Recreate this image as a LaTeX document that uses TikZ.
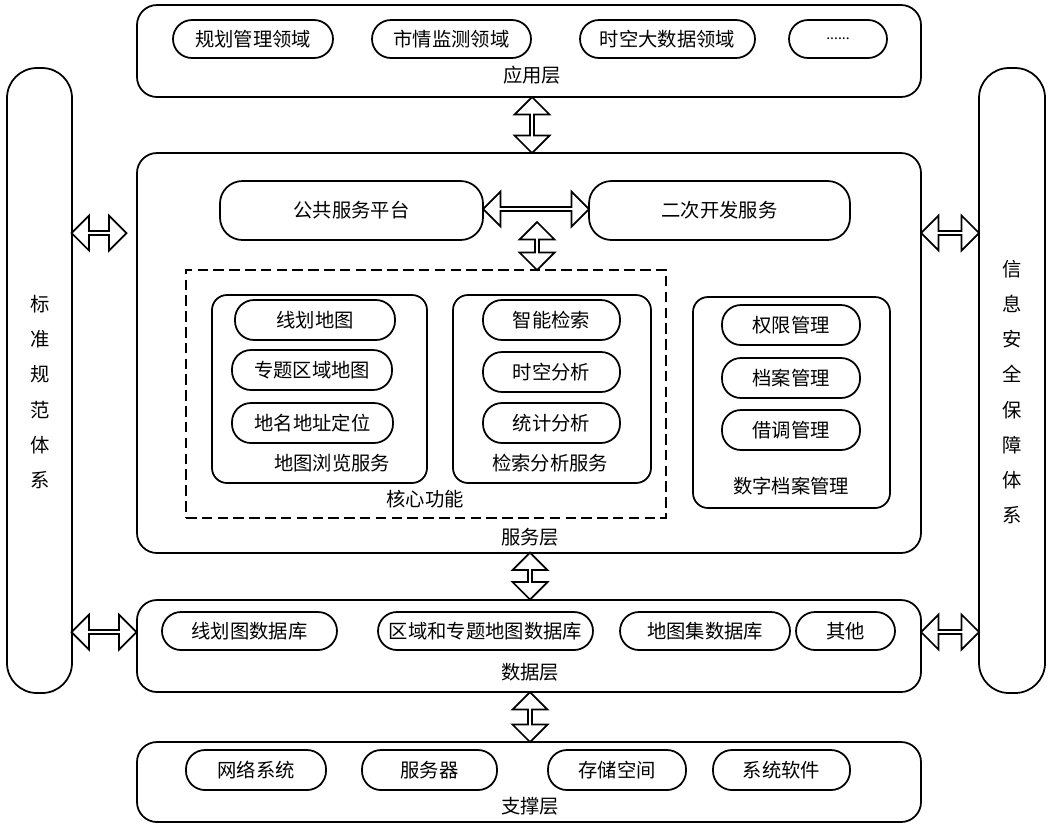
\documentclass[tikz,border=0pt]{standalone}
\usepackage{fontspec}
\setmainfont{Noto Sans CJK SC}
\usetikzlibrary{positioning,fit,shapes.arrows}
\tikzset{
  layer/.style={draw, line width=1pt, rounded corners=0.4cm, inner sep=0pt},
  group/.style={draw, line width=1pt, rounded corners=0.3cm, inner sep=0pt},
  pill/.style={draw, line width=1pt, rounded corners=0.38cm, inner sep=0pt},
  core/.style={draw, line width=1pt, dashed, dash pattern=on 6pt off 3pt, inner sep=0pt},
  darr/.style={double arrow, draw, line width=1pt, fill=white, minimum width=0.7cm,
    double arrow head extend=0.14cm, double arrow head indent=0cm, inner sep=0pt},
  txt/.style={font=\fontsize{11}{13}\selectfont},
  vtxt/.style={font=\fontsize{11}{20}\selectfont, align=center}
}
\begin{document}
\begin{tikzpicture}[x=0.02cm,y=-0.02cm,txt]
\useasboundingbox (0,0) rectangle (1050,826);
% layers
\node[layer, fit={(137,5)(921,97)}] (app) {};
\node at (532,75) {应用层};
\node[pill, fit={(173,20)(333,58)}, label=center:{规划管理领域}] (a1) {};
\node[pill, fit={(372,20)(531,58)}, label=center:{市情监测领域}] (a2) {};
\node[pill, fit={(580,20)(755,58)}, label=center:{时空大数据领域}] (a3) {};
\node[pill, fit={(789,20)(887,58)}] (a4) {};
\node[font=\fontsize{8}{10}\selectfont] at (a4.center) {......};

\node[layer, fit={(137,153)(921,553)}] (srv) {};
\node at (530,537) {服务层};
\node[pill, rounded corners=0.45cm, fit={(220,181)(483,240)}, label=center:{公共服务平台}] (pub) {};
\node[pill, rounded corners=0.45cm, fit={(589,181)(850,240)}, label=center:{二次开发服务}] (dev) {};
\node[core, fit={(186,270)(666,518)}] (core) {};
\node at (425,499) {核心功能};
% map browsing
\node[group, fit={(212,295)(427,483)}] (map) {};
\node at (332,463) {地图浏览服务};
\node[pill, fit={(235,300)(395,340)}, label=center:{线划地图}] (m1) {};
\node[pill, fit={(232,350)(392,390)}, label=center:{专题区域地图}] (m2) {};
\node[pill, fit={(232,403)(393,443)}, label=center:{地名地址定位}] (m3) {};
% search
\node[group, fit={(453,295)(651,483)}] (sea) {};
\node at (550,463) {检索分析服务};
\node[pill, fit={(483,300)(620,340)}, label=center:{智能检索}] (s1) {};
\node[pill, fit={(483,352)(620,392)}, label=center:{时空分析}] (s2) {};
\node[pill, fit={(483,403)(620,443)}, label=center:{统计分析}] (s3) {};
% archives
\node[group, fit={(693,297)(890,508)}] (arc) {};
\node at (791,486) {数字档案管理};
\node[pill, fit={(722,305)(860,345)}, label=center:{权限管理}] (r1) {};
\node[pill, fit={(722,358)(860,398)}, label=center:{档案管理}] (r2) {};
\node[pill, fit={(722,410)(860,450)}, label=center:{借调管理}] (r3) {};

\node[layer, fit={(137,600)(921,692)}] (dat) {};
\node at (530,672) {数据层};
\node[pill, fit={(162,612)(337,650)}, label=center:{线划图数据库}] (d1) {};
\node[pill, fit={(378,612)(593,650)}, label=center:{区域和专题地图数据库}] (d2) {};
\node[pill, fit={(620,612)(790,650)}, label=center:{地图集数据库}] (d3) {};
\node[pill, fit={(796,612)(895,650)}, label=center:{其他}] (d4) {};

\node[layer, fit={(137,742)(921,822)}] (sup) {};
\node at (530,806) {支撑层};
\node[pill, fit={(186,750)(326,790)}, label=center:{网络系统}] (u1) {};
\node[pill, fit={(362,750)(497,790)}, label=center:{服务器}] (u2) {};
\node[pill, fit={(548,750)(686,790)}, label=center:{存储空间}] (u3) {};
\node[pill, fit={(713,750)(850,790)}, label=center:{系统软件}] (u4) {};

% side columns
\node[layer, rounded corners=0.6cm, fit={(7,68)(72,693)}] (std) {};
\node[vtxt] at (40,392) {标\\准\\规\\范\\体\\系};
\node[layer, rounded corners=0.6cm, fit={(979,68)(1045,693)}] (sec) {};
\node[vtxt] at (1012,392) {信\\息\\安\\全\\保\\障\\体\\系};

% double arrows
\node[darr, rotate=90, minimum height=1.12cm] at (532,125) {};
\node[darr, minimum height=2.12cm] at (536,209) {};
\node[darr, rotate=90, minimum height=0.96cm] at (537,246) {};
\node[darr, rotate=90, minimum height=0.94cm] at (530,576) {};
\node[darr, rotate=90, minimum height=1.0cm] at (530,717) {};
\node[darr, minimum height=1.1cm] at (99,233) {};
\node[darr, minimum height=1.3cm] at (104,632) {};
\node[darr, minimum height=1.16cm] at (950,233) {};
\node[darr, minimum height=1.16cm] at (950,632) {};
\end{tikzpicture}
\end{document}
